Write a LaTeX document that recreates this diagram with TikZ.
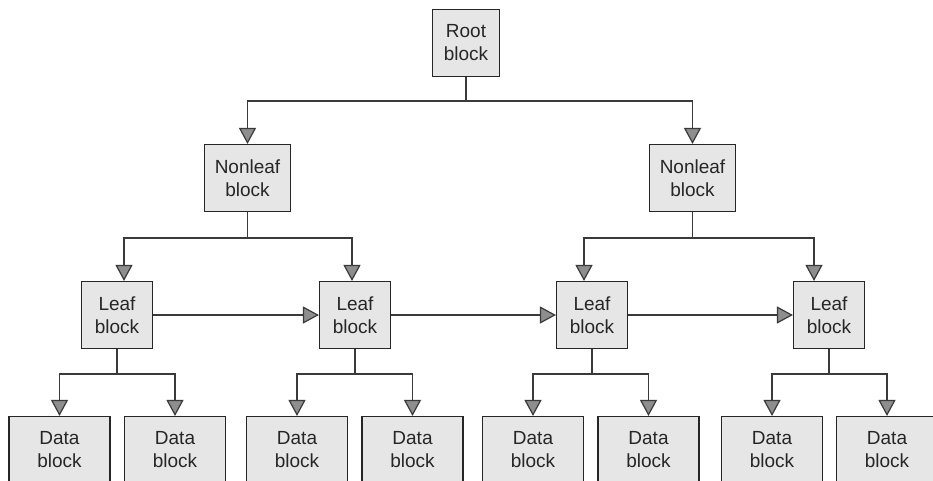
\documentclass[tikz,border=0pt]{standalone}
\usepackage{fontspec}
\setmainfont{Liberation Sans}
\usetikzlibrary{arrows.meta}
\definecolor{boxgray}{HTML}{E6E6E6}
\definecolor{tipgray}{HTML}{8E8E8E}
\definecolor{linegray}{HTML}{3A3A3A}

\begin{document}
\begin{tikzpicture}[x=1pt,y=-1pt,
  blk/.style={draw=black!85, fill=boxgray, line width=1.1pt, minimum height=67pt,
    inner sep=0pt, align=center, font=\fontsize{19}{23}\selectfont, text=black!85},
  link/.style={draw=linegray, line width=1.2pt},
  arr/.style={link, -{Triangle[width=17pt,length=16pt,fill=tipgray]}}]
\useasboundingbox (0,0) rectangle (933,480);
\clip (0,0) rectangle (933,480);
\node[blk, minimum width=67pt] (root) at (466,43) {Root\\block};
\node[blk, minimum width=86pt] (nl1) at (247.5,178) {Nonleaf\\block};
\node[blk, minimum width=86pt] (nl2) at (692.5,178) {Nonleaf\\block};
\foreach \n/\x in {1/117,2/355,3/592,4/829}
  \node[blk, minimum width=71pt] (lf\n) at (\x,315) {Leaf\\block};
\foreach \n/\x in {1/59.5,2/175,3/297,4/412.5,5/533,6/648.5,7/772,8/887}
  \node[blk, minimum width=101pt] (d\n) at (\x,450) {Data\\block};
% root to nonleaf
\draw[link] (root.south) -- ++(0,24) coordinate (jr);
\draw[arr] (jr) -| (nl1.north);
\draw[arr] (jr) -| (nl2.north);
% nonleaf to leaf
\draw[link] (nl1.south) -- ++(0,26) coordinate (jn1);
\draw[arr] (jn1) -| ([xshift=7pt]lf1.north);
\draw[arr] (jn1) -| ([xshift=-3pt]lf2.north);
\draw[link] (nl2.south) -- ++(0,26) coordinate (jn2);
\draw[arr] (jn2) -| ([xshift=-8pt]lf3.north);
\draw[arr] (jn2) -| ([xshift=-15pt]lf4.north);
% leaf chain
\draw[arr] (lf1) -- (lf2);
\draw[arr] (lf2) -- (lf3);
\draw[arr] (lf3) -- (lf4);
% leaf to data
\foreach \l/\a/\b in {1/1/2,2/3/4,3/5/6,4/7/8} {
  \draw[link] (lf\l.south) -- ++(0,25) coordinate (jl\l);
  \draw[arr] (jl\l) -| (d\a.north);
  \draw[arr] (jl\l) -| (d\b.north);
}
\end{tikzpicture}
\end{document}
